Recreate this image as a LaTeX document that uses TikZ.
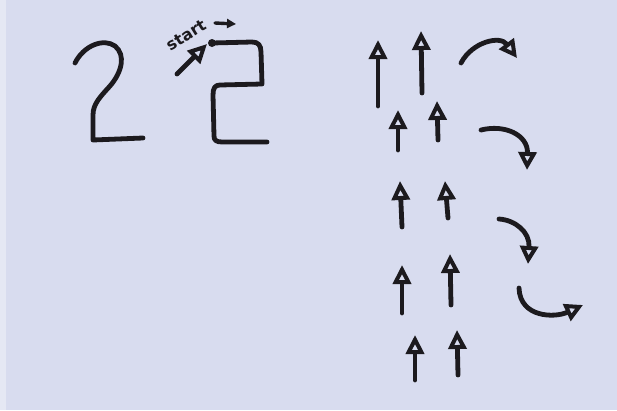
\documentclass[tikz,border=0pt]{standalone}
\usepackage{fontspec}
\setmainfont{DejaVu Sans}
\usetikzlibrary{arrows.meta}
\definecolor{paper}{RGB}{216,220,239}
\definecolor{ink}{RGB}{28,26,30}
\tikzset{
  pen/.style={draw=ink, line width=4.8pt, line cap=round, line join=round},
  uparrow/.style={pen, -{Triangle[open, length=19pt, width=18pt, line width=4pt]}},
  bendarrow/.style={pen, -{Triangle[open, length=18pt, width=18pt, line width=4pt]}},
}
\begin{document}
\begin{tikzpicture}[x=1pt, y=-1pt]
\fill[paper] (0,0) rectangle (617,410);
\fill[white, opacity=0.35] (0,0) rectangle (6,410);
\useasboundingbox (0,0) rectangle (617,410);

% left "2"
\draw[pen] (75,63) .. controls (84,45) and (104,38) .. (115,46)
  .. controls (126,55) and (122,72) .. (110,86)
  .. controls (100,97) and (93,104) .. (93,115) -- (93,140) -- (143,138);

% right "2" with start dot
\fill[ink] (212,43) circle (4);
\draw[pen] (212,43) -- (252,42) .. controls (258,42) and (261,45) .. (261,52)
  -- (262,84) -- (220,85) .. controls (215,85) and (213,88) .. (213,95)
  -- (214,136) .. controls (214,140) and (216,142) .. (222,142) -- (267,142);

% start label
\node[text=ink, rotate=32, font=\fontsize{16}{16}\selectfont\bfseries, inner sep=0pt] (start) at (186,35) {start};
\draw[pen, line width=3.4pt, -{Triangle[length=9pt, width=9pt]}] (215,23) -- (236,24);
\draw[uparrow] (177,74) -- (207,44);

% column of up arrows
\draw[uparrow] (378,106) -- (378,40);
\draw[uparrow] (422,93) -- (421,31);
\draw[uparrow] (398,150) -- (398,110);
\draw[uparrow] (438,140) -- (437,101);
\draw[uparrow] (402,227) -- (400,181);
\draw[uparrow] (448,218) -- (445,181);
\draw[uparrow] (402,313) -- (402,265);
\draw[uparrow] (451,305) -- (450,254);
\draw[uparrow] (415,380) -- (415,335);
\draw[uparrow] (458,375) -- (457,330);

% curved arrows
\draw[bendarrow] (461,63) .. controls (472,42) and (500,35) .. (517,58);
\draw[bendarrow] (481,130) .. controls (505,124) and (528,135) .. (527,170);
\draw[bendarrow] (499,219) .. controls (515,220) and (530,232) .. (528,264);
\draw[bendarrow] (519,288) .. controls (520,318) and (555,318) .. (583,305);
\end{tikzpicture}
\end{document}
